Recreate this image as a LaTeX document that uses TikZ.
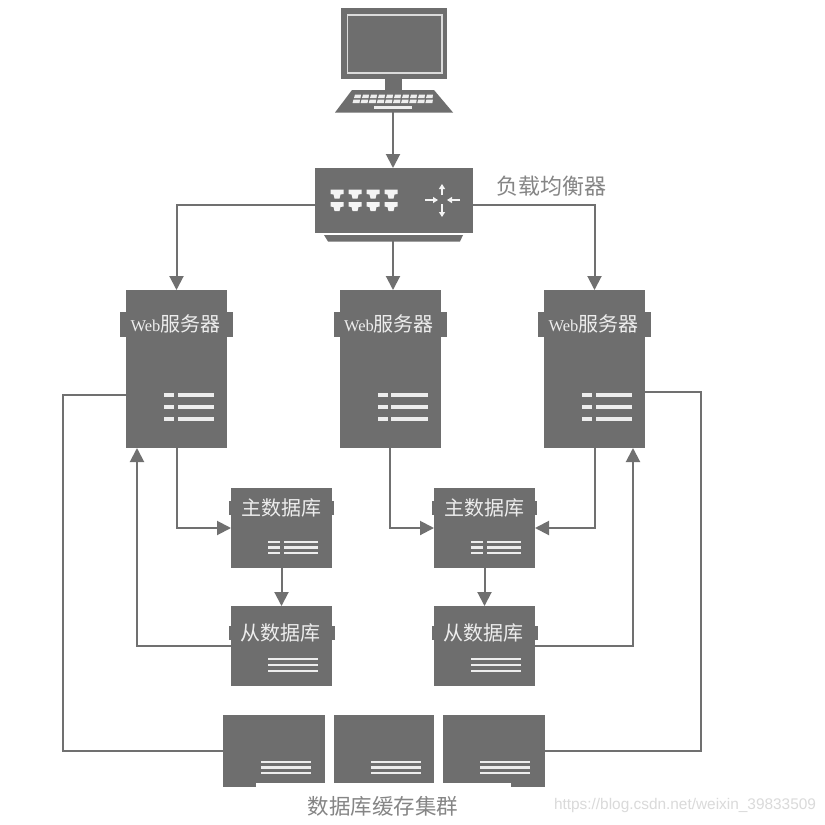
\documentclass[tikz,border=0pt]{standalone}
\usepackage{fontspec}
\setmainfont{Noto Sans CJK SC}
\newfontfamily\wmfont{Liberation Sans}
\newfontfamily\webfont{Liberation Serif}
\usetikzlibrary{arrows.meta,positioning}
\definecolor{boxgray}{HTML}{6E6E6E}
\definecolor{linegray}{HTML}{707070}
\definecolor{inktext}{HTML}{EDEDED}
\definecolor{captext}{HTML}{858585}
\definecolor{wmtext}{HTML}{DADADA}
\tikzset{
  x=1pt,y=-1pt,
  box/.style={fill=boxgray,draw=none,inner sep=0pt,outer sep=0pt},
  boxtext/.style={text=inktext,font=\fontsize{20}{24}\selectfont,inner sep=0pt},
  caption/.style={text=captext,inner sep=0pt},
  conn/.style={draw=linegray,line width=2pt},
  arrowconn/.style={conn,-{Triangle[length=14pt,width=14pt,fill=linegray]}},
  bar/.style={fill=inktext,draw=none},
}
% #1 x start, #2 half thickness, #3-#5 y values
\newcommand{\listlines}[5]{%
  \foreach \yy in {#3,#4,#5}{
    \fill[bar] (#1,\yy-#2) rectangle (#1+50,\yy+#2);
  }}
% #6 gap position from the line start
\newcommand{\listgap}[6]{%
  \listlines{#1}{#2}{#3}{#4}{#5}
  \fill[boxgray] (#1+#6,#3-3) rectangle (#1+#6+3.5,#5+3);}
\begin{document}
\begin{tikzpicture}
\useasboundingbox (0,0) rectangle (825,825);
\fill[white] (0,0) rectangle (825,825);

% computer
\node[box,minimum width=106pt,minimum height=71pt] (monitor) at (394,43.5) {};
\draw[draw=white!75!boxgray,line width=1.2pt] (347.5,15) rectangle (442,73);
\fill[boxgray] (385,79) rectangle (402,91);
\fill[boxgray] (352,90) -- (434,90) -- (453,112.5) -- (335,112.5) -- cycle;
\foreach \i in {0,...,9}{
  \fill[white!88!boxgray] (355+\i*8,94.5) -- (361+\i*8,94.5) -- (360.5+\i*8,98) -- (354+\i*8,98) -- cycle;
  \fill[white!88!boxgray] (353.5+\i*8.1,99.5) -- (360+\i*8.1,99.5) -- (359.5+\i*8.1,103) -- (352.5+\i*8.1,103) -- cycle;
}
\fill[white!88!boxgray] (374,106) rectangle (412,108.5);
\coordinate (pc) at (393,112);

% load balancer
\node[box,minimum width=158pt,minimum height=65pt] (lb) at (394,200.5) {};
\fill[boxgray] (324,235) -- (463,235) -- (460,241.5) -- (328,241.5) -- cycle;
\coordinate (lbbase) at (393,241);
\foreach \px in {337,355,373,391}{
  \foreach \py in {189.5,202}{
    \fill[white!92!boxgray] (\px-6.5,\py) -- (\px+6.5,\py) -- (\px+6.5,\py+4.5) -- (\px+3.5,\py+5) -- (\px+2.5,\py+9) -- (\px-2.5,\py+9) -- (\px-3.5,\py+5) -- (\px-6.5,\py+4.5) -- cycle;
  }
}
\begin{scope}[white!92!boxgray,line width=1.5pt,-{Triangle[length=5pt,width=6pt]}]
  \draw (442,195) -- (442,184);
  \draw (442,204) -- (442,217);
  \draw (425,200) -- (438,200);
  \draw (460,200) -- (447,200);
\end{scope}
\node[caption,font=\fontsize{22}{26}\selectfont] (lblabel) at (551,186) {负载均衡器};

% web servers
\foreach \n/\cx in {web1/176.5,web2/390,web3/594.5}{
  \fill[boxgray] (\cx-56.5,312) rectangle (\cx+56.5,337);
  \node[box,minimum width=101pt,minimum height=158pt] (\n) at (\cx,369) {};
  \node[boxtext] (\n label) at (\cx-1,324) {{\webfont\fontsize{16.5}{20}\selectfont Web}服务器};
  \listgap{\cx-12.5}{1.6}{395}{407}{419}{10}
}

% databases
\foreach \n/\cx in {m1/281.5,m2/484.5}{
  \fill[boxgray] (\cx-52.5,501) rectangle (\cx+52.5,515);
  \node[box,minimum width=101pt,minimum height=80pt] (\n) at (\cx,528) {};
  \node[boxtext] (\n label) at (\cx-.5,508) {主数据库};
  \listgap{\cx-13.5}{1.2}{542}{547.5}{553}{12}
}
\foreach \n/\cx in {s1/281.5,s2/484.5}{
  \fill[boxgray] (\cx-53,626) rectangle (\cx+53,640);
  \node[box,minimum width=101pt,minimum height=80pt] (\n) at (\cx,646) {};
  \node[boxtext] (\n label) at (\cx-1,633) {从数据库};
  \listlines{\cx-13.5}{1.2}{659}{665}{671}
}

% cache cluster
\node[box,minimum width=102pt,minimum height=68pt] (c1) at (274,749) {};
\node[box,minimum width=100pt,minimum height=68pt] (c2) at (384,749) {};
\node[box,minimum width=102pt,minimum height=68pt] (c3) at (494,749) {};
\fill[boxgray] (223,783) rectangle (256,787);
\fill[boxgray] (511,783) rectangle (545,787);
\listlines{261}{1.1}{762}{767.5}{773}
\listlines{371}{1.1}{762}{767.5}{773}
\listlines{480}{1.1}{762}{767.5}{773}
\node[caption,font=\fontsize{21.5}{26}\selectfont] (cachelabel) at (383,806) {数据库缓存集群};
\node[text=wmtext,inner sep=0pt,font=\wmfont\fontsize{15.4}{18}\selectfont] (wm) at (685,806) {https://blog.csdn.net/weixin\_39833509};

% connectors
\draw[arrowconn] (pc) -- (lb.north -| pc);
\draw[arrowconn] ([yshift=-4.5pt]lb.west) -| (web1.north);
\draw[arrowconn] (lbbase) -- (web2.north -| lbbase);
\draw[arrowconn] ([yshift=-4.5pt]lb.east) -| (web3.north);
\draw[arrowconn] (web1.south) |- (m1.west);
\draw[arrowconn] (web2.south) |- (m2.west);
\draw[arrowconn] (web3.south) |- (m2.east);
\draw[arrowconn] (m1.south) -- (s1.north);
\draw[arrowconn] (m2.south) -- (s2.north);
\draw[arrowconn] (s1.west) -| ([xshift=-39.5pt]web1.south);
\draw[arrowconn] (s2.east) -| ([xshift=38.5pt]web3.south);
\draw[conn] ([yshift=-26pt]web1.west) -- ++(-63,0) |- ([yshift=-2pt]c1.west);
\draw[conn] ([yshift=-23pt]web3.east) -- ++(56,0) |- ([yshift=-2pt]c3.east);
\end{tikzpicture}
\end{document}
